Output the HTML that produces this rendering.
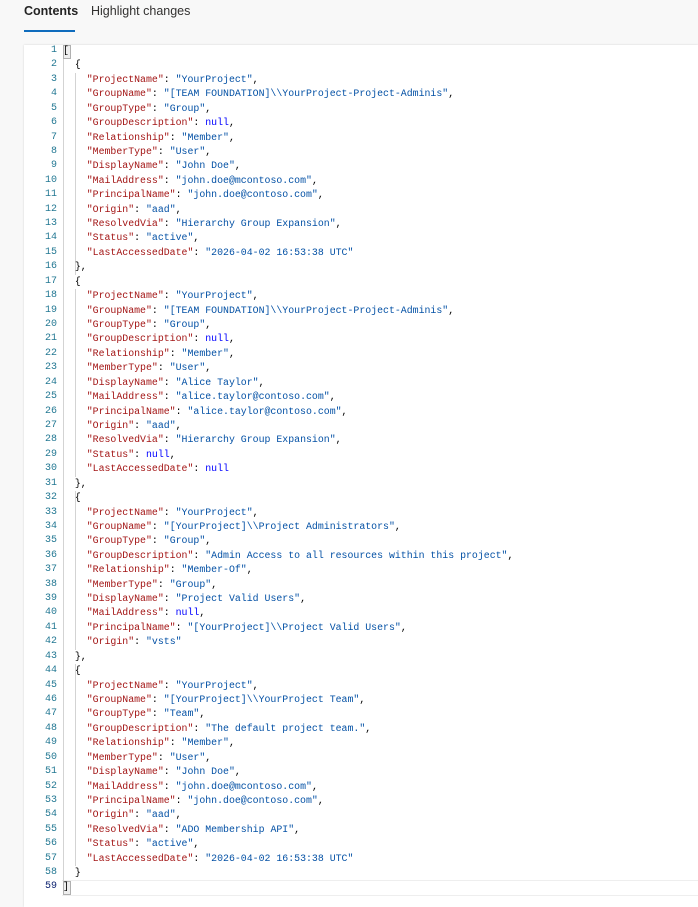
<!DOCTYPE html>
<html><head><meta charset="utf-8"><style>
body{margin:0;width:698px;height:907px;background:#f8f8f8;overflow:hidden;position:relative;font-family:"Liberation Sans",sans-serif}
.tab{position:absolute;top:4px;font-size:12.5px;color:#323130}
.ul{position:absolute;left:24px;top:30px;width:51px;height:2px;background:#0f6cbd}
.panel{position:absolute;left:24px;top:45px;right:0;bottom:0;background:#fff;box-shadow:0 0 2px rgba(0,0,0,.15)}
.code{position:absolute;left:0;top:44px;width:698px;font-family:"Liberation Mono",monospace;font-size:9.9px;line-height:14.42px}
.ln{position:absolute;top:0;left:24px;width:33px;text-align:right;color:#237893;font-family:"Liberation Mono",monospace;font-size:10px;line-height:14.42px;white-space:pre}
.t{position:absolute;top:0;left:63px;color:#000;white-space:pre}
.k{color:#a31515}.s{color:#0451a5}.n{color:#0000ff}
.g{position:absolute;width:1px;background:#d3d3d3}
</style></head><body>
<div class="tab" style="left:24px;font-weight:bold;color:#242424">Contents</div>
<div class="tab" style="left:91px">Highlight changes</div>
<div class="ul"></div>
<div class="panel"></div>
<div style="position:absolute;left:62px;right:0;top:880px;height:14px;border-top:1px solid #eee;border-bottom:1px solid #eee"></div>
<div class="g" style="left:63px;top:59px;height:822px"></div>
<div class="g" style="left:75px;top:73px;height:202px"></div>
<div class="g" style="left:75px;top:289px;height:188px"></div>
<div class="g" style="left:75px;top:491px;height:159px"></div>
<div class="g" style="left:75px;top:664px;height:202px"></div>
<div style="position:absolute;left:63px;top:45px;width:6px;height:12px;border:1px solid #b0b0b0;background:#eee"></div>
<div style="position:absolute;left:63px;top:881px;width:6px;height:12px;border:1px solid #b0b0b0;background:#eee"></div>
<div class="code"><div class="ln">1
2
3
4
5
6
7
8
9
10
11
12
13
14
15
16
17
18
19
20
21
22
23
24
25
26
27
28
29
30
31
32
33
34
35
36
37
38
39
40
41
42
43
44
45
46
47
48
49
50
51
52
53
54
55
56
57
58
<span style="color:#0b216f">59</span></div><div class="t">[
  {
    <span class="k">"ProjectName"</span>: <span class="s">"YourProject"</span>,
    <span class="k">"GroupName"</span>: <span class="s">"[TEAM FOUNDATION]\\YourProject-Project-Adminis"</span>,
    <span class="k">"GroupType"</span>: <span class="s">"Group"</span>,
    <span class="k">"GroupDescription"</span>: <span class="n">null</span>,
    <span class="k">"Relationship"</span>: <span class="s">"Member"</span>,
    <span class="k">"MemberType"</span>: <span class="s">"User"</span>,
    <span class="k">"DisplayName"</span>: <span class="s">"John Doe"</span>,
    <span class="k">"MailAddress"</span>: <span class="s">"john.doe@mcontoso.com"</span>,
    <span class="k">"PrincipalName"</span>: <span class="s">"john.doe@contoso.com"</span>,
    <span class="k">"Origin"</span>: <span class="s">"aad"</span>,
    <span class="k">"ResolvedVia"</span>: <span class="s">"Hierarchy Group Expansion"</span>,
    <span class="k">"Status"</span>: <span class="s">"active"</span>,
    <span class="k">"LastAccessedDate"</span>: <span class="s">"2026-04-02 16:53:38 UTC"</span>
  },
  {
    <span class="k">"ProjectName"</span>: <span class="s">"YourProject"</span>,
    <span class="k">"GroupName"</span>: <span class="s">"[TEAM FOUNDATION]\\YourProject-Project-Adminis"</span>,
    <span class="k">"GroupType"</span>: <span class="s">"Group"</span>,
    <span class="k">"GroupDescription"</span>: <span class="n">null</span>,
    <span class="k">"Relationship"</span>: <span class="s">"Member"</span>,
    <span class="k">"MemberType"</span>: <span class="s">"User"</span>,
    <span class="k">"DisplayName"</span>: <span class="s">"Alice Taylor"</span>,
    <span class="k">"MailAddress"</span>: <span class="s">"alice.taylor@contoso.com"</span>,
    <span class="k">"PrincipalName"</span>: <span class="s">"alice.taylor@contoso.com"</span>,
    <span class="k">"Origin"</span>: <span class="s">"aad"</span>,
    <span class="k">"ResolvedVia"</span>: <span class="s">"Hierarchy Group Expansion"</span>,
    <span class="k">"Status"</span>: <span class="n">null</span>,
    <span class="k">"LastAccessedDate"</span>: <span class="n">null</span>
  },
  {
    <span class="k">"ProjectName"</span>: <span class="s">"YourProject"</span>,
    <span class="k">"GroupName"</span>: <span class="s">"[YourProject]\\Project Administrators"</span>,
    <span class="k">"GroupType"</span>: <span class="s">"Group"</span>,
    <span class="k">"GroupDescription"</span>: <span class="s">"Admin Access to all resources within this project"</span>,
    <span class="k">"Relationship"</span>: <span class="s">"Member-Of"</span>,
    <span class="k">"MemberType"</span>: <span class="s">"Group"</span>,
    <span class="k">"DisplayName"</span>: <span class="s">"Project Valid Users"</span>,
    <span class="k">"MailAddress"</span>: <span class="n">null</span>,
    <span class="k">"PrincipalName"</span>: <span class="s">"[YourProject]\\Project Valid Users"</span>,
    <span class="k">"Origin"</span>: <span class="s">"vsts"</span>
  },
  {
    <span class="k">"ProjectName"</span>: <span class="s">"YourProject"</span>,
    <span class="k">"GroupName"</span>: <span class="s">"[YourProject]\\YourProject Team"</span>,
    <span class="k">"GroupType"</span>: <span class="s">"Team"</span>,
    <span class="k">"GroupDescription"</span>: <span class="s">"The default project team."</span>,
    <span class="k">"Relationship"</span>: <span class="s">"Member"</span>,
    <span class="k">"MemberType"</span>: <span class="s">"User"</span>,
    <span class="k">"DisplayName"</span>: <span class="s">"John Doe"</span>,
    <span class="k">"MailAddress"</span>: <span class="s">"john.doe@mcontoso.com"</span>,
    <span class="k">"PrincipalName"</span>: <span class="s">"john.doe@contoso.com"</span>,
    <span class="k">"Origin"</span>: <span class="s">"aad"</span>,
    <span class="k">"ResolvedVia"</span>: <span class="s">"ADO Membership API"</span>,
    <span class="k">"Status"</span>: <span class="s">"active"</span>,
    <span class="k">"LastAccessedDate"</span>: <span class="s">"2026-04-02 16:53:38 UTC"</span>
  }
]</div></div>
</body></html>
